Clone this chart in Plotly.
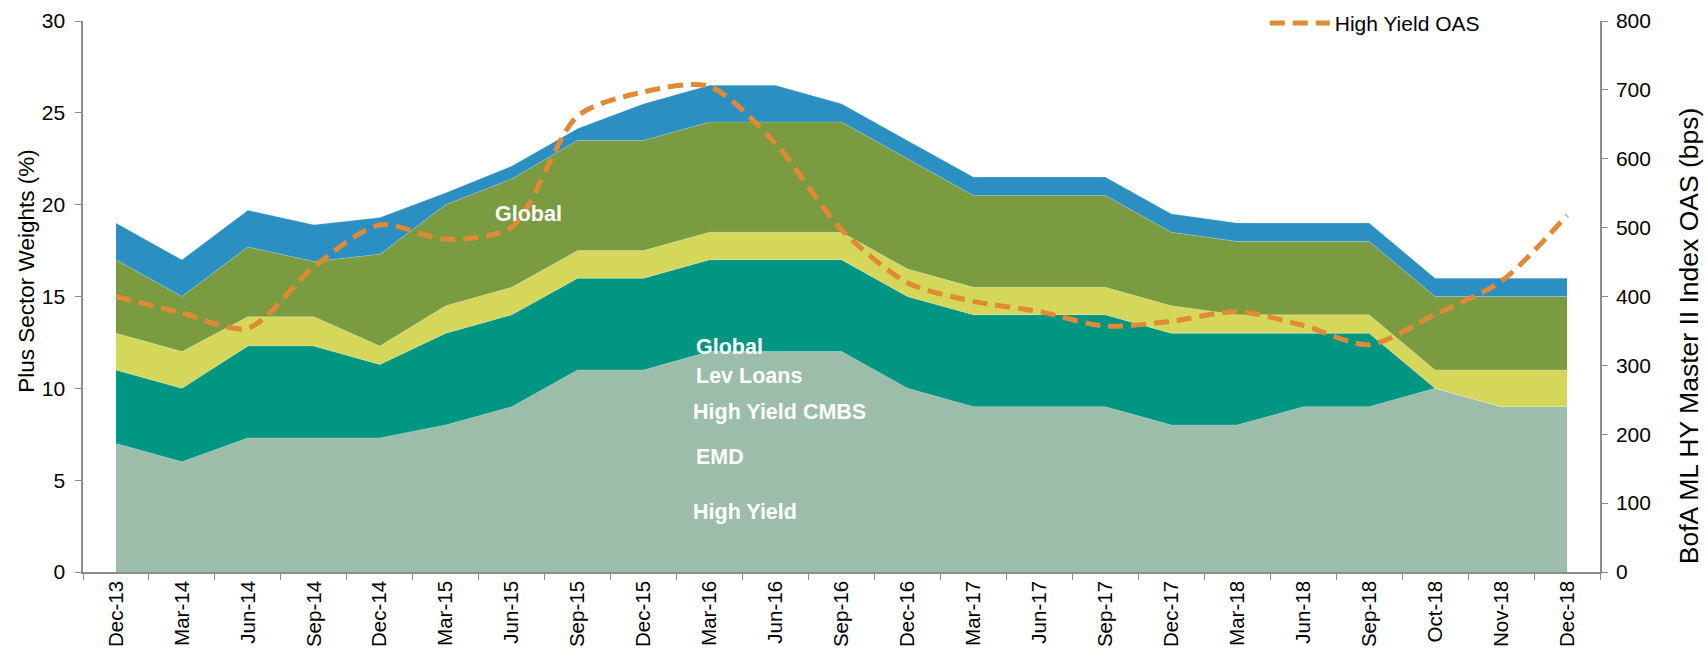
import plotly.graph_objects as go

categories = ["Dec-13", "Mar-14", "Jun-14", "Sep-14", "Dec-14", "Mar-15", "Jun-15", "Sep-15",
              "Dec-15", "Mar-16", "Jun-16", "Sep-16", "Dec-16", "Mar-17", "Jun-17", "Sep-17",
              "Dec-17", "Mar-18", "Jun-18", "Sep-18", "Oct-18", "Nov-18", "Dec-18"]

high_yield = [7, 6, 7.3, 7.3, 7.3, 8, 9, 11, 11, 12, 12, 12, 10, 9, 9, 9, 8, 8, 9, 9, 10, 9, 9]
emd = [4, 4, 5, 5, 4, 5, 5, 5, 5, 5, 5, 5, 5, 5, 5, 5, 5, 5, 4, 4, 0, 0, 0]
hy_cmbs = [2, 2, 1.6, 1.6, 1, 1.5, 1.5, 1.5, 1.5, 1.5, 1.5, 1.5, 1.5, 1.5, 1.5, 1.5, 1.5, 1, 1, 1, 1, 2, 2]
lev_loans = [4, 3, 3.8, 3, 5, 5.5, 5.9, 6, 6, 6, 6, 6, 6, 5, 5, 5, 4, 4, 4, 4, 4, 4, 4]
global_w = [2, 2, 2, 2, 2, 0.65, 0.7, 0.65, 2, 2, 2, 1, 1, 1, 1, 1, 1, 1, 1, 1, 1, 1, 1]
hy_oas = [400, 376, 354, 443, 504, 483, 501, 662, 697, 705, 622, 497, 420, 393, 378, 357,
          364, 378, 358, 330, 374, 422, 518]

series = [
    ("High Yield", high_yield, "#9bbda9"),
    ("EMD", emd, "#009682"),
    ("High Yield CMBS", hy_cmbs, "#d4d75a"),
    ("Lev Loans", lev_loans, "#7a9b3f"),
    ("Global", global_w, "#2b8fc2"),
]

FONT = "Liberation Sans, Arial, sans-serif"

fig = go.Figure()
for name, vals, color in series:
    fig.add_trace(go.Scatter(
        x=categories, y=vals, name=name, mode="lines",
        stackgroup="w", line=dict(width=0.6, color="rgba(255,255,255,0.35)"),
        fillcolor=color, showlegend=False, hoverinfo="x+y+name",
    ))

fig.add_trace(go.Scatter(
    x=categories, y=hy_oas, name="High Yield OAS", mode="lines", yaxis="y2",
    line=dict(color="#e08a35", width=5, dash="15px,8px", shape="spline", smoothing=0.8),
))

label_font = dict(family=FONT, size=21.5, color="white")
annots = [
    ("Global", 5.72, 19.5),
    ("Global", 8.77, 12.25),
    ("Lev Loans", 8.77, 10.65),
    ("High Yield CMBS", 8.72, 8.7),
    ("EMD", 8.77, 6.27),
    ("High Yield", 8.72, 3.28),
]
for txt, xv, yv in annots:
    fig.add_annotation(x=xv, y=yv, xref="x", yref="y", text="<b>%s</b>" % txt,
                       showarrow=False, xanchor="left", yanchor="middle", font=label_font)

# axis titles placed as in the reference (offset from the axis centre)
fig.add_annotation(x=0, y=0.545, xref="paper", yref="paper", xshift=-56,
                   text="Plus Sector Weights (%)", textangle=-90, showarrow=False,
                   xanchor="center", yanchor="middle", font=dict(family=FONT, size=22.5, color="black"))
fig.add_annotation(x=1, y=0.428, xref="paper", yref="paper", xshift=89,
                   text="BofA ML HY Master II Index OAS (bps)", textangle=-90, showarrow=False,
                   xanchor="center", yanchor="middle", font=dict(family=FONT, size=26.5, color="black"))

axis_color = "#8c8c8c"
fig.update_layout(
    width=1706, height=654,
    margin=dict(l=83, r=106, t=21, b=82, autoexpand=False),
    paper_bgcolor="white", plot_bgcolor="white",
    font=dict(family=FONT, size=21, color="black"),
    xaxis=dict(
        type="category", range=[-0.5, 22.5], tickson="boundaries",
        ticks="outside", ticklen=6, tickcolor=axis_color, tickangle=-90,
        showline=True, linecolor=axis_color, linewidth=1.5, showgrid=False,
        tickfont=dict(size=20.5), automargin=False, ticklabelstandoff=-1,
    ),
    yaxis=dict(
        range=[0, 30], dtick=5, ticks="outside", ticklen=6, tickcolor=axis_color,
        showline=True, linecolor=axis_color, linewidth=1.5, showgrid=False, zeroline=False,
        tickfont=dict(size=21), ticksuffix=" ", automargin=False,
    ),
    yaxis2=dict(
        range=[0, 800], dtick=100, overlaying="y", side="right",
        ticks="outside", ticklen=6, tickcolor=axis_color,
        showline=True, linecolor=axis_color, linewidth=1.5, showgrid=False, zeroline=False,
        tickfont=dict(size=21), automargin=False, ticklabelstandoff=4,
    ),
    legend=dict(x=0.779, y=1.033, xanchor="left", yanchor="top", bgcolor="rgba(0,0,0,0)",
                font=dict(size=21), itemwidth=60),
    showlegend=True,
)

fig.write_html("out.html", config={"displayModeBar": False},
               post_script="document.body.style.margin='0px';")
